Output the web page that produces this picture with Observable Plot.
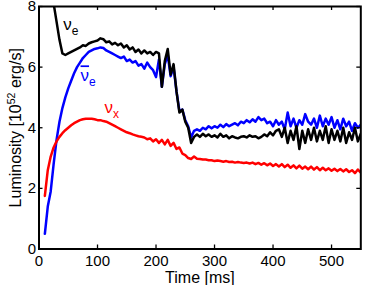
<!DOCTYPE html>
<html><head><meta charset="utf-8">
<script src="https://cdn.jsdelivr.net/npm/d3@7"></script>
<script src="https://cdn.jsdelivr.net/npm/@observablehq/plot@0.6"></script>
<style>body{margin:0;background:#fff}</style>
</head><body><div id="chart"></div>
<script>
// Tick labels
const xTicks = [0, 100, 200, 300, 400, 500];
const yTicks = [0, 2, 4, 6, 8];
const xTitle = "Time [ms]";
const yTitle = "Luminosity [10^52 erg/s]";

// Series sampled every 5 ms
const step = 5;
// nu_e (black), starting at 20 ms
const nuEStart = 20;
const nuE = [
  8.7, 8.1, 7.5, 6.9, 6.45, 6.4, 6.45, 6.5, 6.55, 6.6,
  6.65, 6.72, 6.7, 6.78, 6.82, 6.85, 6.88, 6.95, 6.92, 6.82,
  6.85, 6.75, 6.8, 6.72, 6.78, 6.65, 6.72, 6.58, 6.65, 6.5,
  6.58, 6.45, 6.55, 6.45, 6.5, 6.4, 6.5, 6.45, 5.35, 6.2,
  6.6, 5.75, 6.1, 5.2, 4.5, 4.6, 4.2, 4.0, 3.5, 3.7,
  3.78, 3.7, 3.8, 3.72, 3.78, 3.7, 3.75, 3.68, 3.8, 3.7,
  3.75, 3.65, 3.72, 3.68, 3.65, 3.7, 3.72, 3.68, 3.75, 3.7,
  3.72, 3.65, 3.7, 3.78, 3.72, 3.85, 3.75, 3.9, 3.95, 3.7,
  4.0, 3.5, 3.9, 3.6, 4.05, 3.3, 3.9, 3.5, 3.95, 3.6,
  4.0, 3.55, 3.9, 3.6, 4.05, 3.5, 3.95, 3.6, 3.9, 3.55,
  4.0, 3.5, 3.85, 3.6, 4.0, 3.55, 3.8
];
// anti nu_e (blue), starting at 10 ms
const nuEbarStart = 10;
const nuEbar = [
  0.5, 1.4, 1.9, 2.8, 3.6, 4.2, 4.65, 5.0, 5.3, 5.55,
  5.8, 6.0, 6.15, 6.3, 6.4, 6.5, 6.55, 6.6, 6.62, 6.65,
  6.63, 6.55, 6.5, 6.45, 6.4, 6.35, 6.3, 6.35, 6.2, 6.25,
  6.15, 6.2, 6.05, 6.1, 5.95, 6.15, 6.0, 5.9, 5.67, 6.25,
  5.35, 6.1, 6.4, 5.7, 6.0, 5.2, 4.55, 4.6, 4.25, 4.05,
  3.68, 3.9, 3.95, 3.9, 4.0, 3.95, 4.05, 3.98, 4.05, 4.0,
  4.1, 4.02, 4.12, 4.05, 4.1, 4.15, 4.08, 4.2, 4.15, 4.25,
  4.18, 4.28, 4.2, 4.35, 4.25, 4.3, 4.15, 4.2, 4.05, 4.25,
  4.1, 4.2, 3.95, 4.5, 4.05, 4.3, 4.0, 4.25, 4.1, 4.45,
  4.2, 4.1, 4.3, 4.0, 4.4, 4.05, 4.3, 4.1, 4.35, 4.0,
  4.25, 3.95, 4.3, 4.05, 4.2, 3.9, 4.15, 4.0, 4.1
];
// nu_x (red), starting at 10 ms
const nuXStart = 10;
const nuX = [
  1.75, 2.6, 3.05, 3.35, 3.55, 3.7, 3.82, 3.92, 4.0, 4.08,
  4.15, 4.2, 4.25, 4.28, 4.3, 4.3, 4.3, 4.28, 4.25, 4.25,
  4.22, 4.2, 4.15, 4.1, 4.05, 4.0, 3.95, 3.9, 3.85, 3.82,
  3.78, 3.75, 3.72, 3.7, 3.68, 3.62, 3.65, 3.55, 3.62, 3.5,
  3.6, 3.45, 3.6, 3.4, 3.5, 3.3, 3.35, 3.15, 3.1, 3.0,
  2.97, 3.05, 2.98, 2.97, 2.95, 2.95, 2.93, 2.93, 2.9, 2.92,
  2.9, 2.88, 2.9, 2.87, 2.88, 2.85, 2.87, 2.85, 2.84, 2.85,
  2.82, 2.85, 2.8, 2.84, 2.78, 2.83, 2.76, 2.82, 2.74, 2.8,
  2.72, 2.8, 2.7, 2.78, 2.68, 2.76, 2.66, 2.75, 2.65, 2.72,
  2.63, 2.72, 2.62, 2.7, 2.6, 2.68, 2.6, 2.66, 2.58, 2.65,
  2.57, 2.64, 2.56, 2.63, 2.54, 2.6, 2.5, 2.62, 2.52
];

// Curve labels: text, anchor time, anchor luminosity (baseline); bar = antineutrino overline
const labels = [
  {text: "ν_e", t: 41.5, v: 7.24, color: "black", bar: false},
  {text: "ν_e", t: 71, v: 5.53, color: "#0000ff", bar: true},
  {text: "ν_x", t: 112, v: 4.5, color: "#ff0000", bar: false}
];

const toRows = (arr, start) => arr.map((v, i) => ({t: start + step * i, v}));
const blackRows = toRows(nuE, nuEStart);
const blueRows = toRows(nuEbar, nuEbarStart);
const redRows = toRows(nuX, nuXStart);

const W = 366, H = 285, mL = 38.5, mR = 5.7, mT = 6, mB = 36.5;
const fw = W - mL - mR, fh = H - mT - mB;
const tk = 4;

const chart = Plot.plot({
  width: W, height: H,
  marginLeft: mL, marginRight: mR, marginTop: mT, marginBottom: mB,
  style: {fontFamily: "'Liberation Sans', Arial, sans-serif", fontSize: "15px", background: "#fff", color: "black", overflow: "visible"},
  x: {domain: [0, 550]},
  y: {domain: [0, 8]},
  marks: [
    Plot.axisX(xTicks, {tickSize: 0, tickPadding: 6, fontSize: 15, label: null}),
    Plot.axisY(yTicks, {tickSize: 0, tickPadding: 3, fontSize: 15, label: null}),
    Plot.line(blueRows, {x: "t", y: "v", stroke: "#0000ff", strokeWidth: 2.5, clip: true}),
    Plot.line(redRows, {x: "t", y: "v", stroke: "#ff0000", strokeWidth: 2.5, clip: true}),
    Plot.line(blackRows, {x: "t", y: "v", stroke: "black", strokeWidth: 2.5, clip: true}),
    Plot.ruleX(xTicks, {x: d => d, insetTop: fh - tk, stroke: "black", strokeWidth: 1.3}),
    Plot.ruleX(xTicks, {x: d => d, insetBottom: fh - tk, stroke: "black", strokeWidth: 1.3}),
    Plot.ruleY(yTicks, {y: d => d, insetRight: fw - tk, stroke: "black", strokeWidth: 1.3}),
    Plot.ruleY(yTicks, {y: d => d, insetLeft: fw - tk, stroke: "black", strokeWidth: 1.3}),
    Plot.frame({stroke: "black", strokeWidth: 2}),
    Plot.text(labels, {x: "t", y: "v", text: d => (d.bar ? "~" : "") + d.text, fill: "color", fontSize: 17, textAnchor: "start", lineAnchor: "bottom"}),
    Plot.text([xTitle], {frameAnchor: "bottom", dy: 28.5, fontSize: 16, lineAnchor: "middle", textAnchor: "middle"}),
    Plot.text([yTitle], {frameAnchor: "left", dx: -23, rotate: -90, fontSize: 16, lineAnchor: "middle", textAnchor: "middle"})
  ]
});

// Build sub/superscripts and overline as real tspans
const NS = "http://www.w3.org/2000/svg";
chart.querySelectorAll("text").forEach(el => {
  let s = el.textContent;
  if (s.includes("_")) {
    const bar = s.startsWith("~");
    if (bar) s = s.slice(1);
    const [base, sub] = s.split("_");
    el.textContent = "";
    const b = document.createElementNS(NS, "tspan");
    b.textContent = base;
    if (bar) b.setAttribute("text-decoration", "overline");
    el.appendChild(b);
    const ts = document.createElementNS(NS, "tspan");
    ts.setAttribute("dy", "5");
    ts.setAttribute("font-size", "12");
    ts.textContent = sub;
    el.appendChild(ts);
  } else if (s.includes("^")) {
    const m = s.match(/^(.*?)\^(\d+)(.*)$/);
    el.textContent = m[1];
    const sup = document.createElementNS(NS, "tspan");
    sup.setAttribute("dy", "-6");
    sup.setAttribute("font-size", "10.5");
    sup.textContent = m[2];
    const rest = document.createElementNS(NS, "tspan");
    rest.setAttribute("dy", "6");
    rest.textContent = m[3];
    el.appendChild(sup);
    el.appendChild(rest);
  }
});

document.getElementById("chart").appendChild(chart);
</script>
</body></html>
